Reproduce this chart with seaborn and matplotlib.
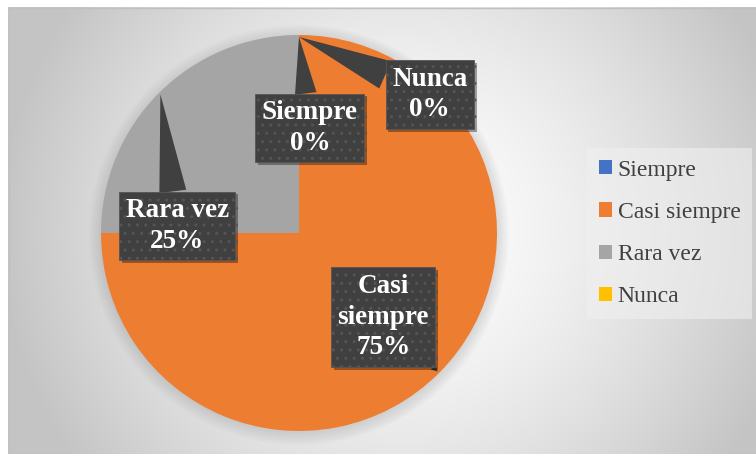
import numpy as np
import matplotlib.pyplot as plt
import matplotlib.patheffects as pe
from matplotlib.patches import Circle
import seaborn as sns

# data
categories = ['Siempre', 'Casi siempre', 'Rara vez', 'Nunca']
percentages = [0, 75, 25, 0]
colors = ['#4472C4', '#ED7D31', '#A5A5A5', '#FFC000']

# label box centres (pie data units, radius = 1)
label_pos = [(0.055, 0.53), (0.425, -0.425), (-0.615, 0.035), (0.66, 0.70)]
callout_width = [0.8, 0.25, 1.0, 1.1]

sns.set_theme(style='white')
plt.rcParams['font.family'] = ['Liberation Serif', 'DejaVu Serif']

W, H = 756, 454
fig = plt.figure(figsize=(W / 100, H / 100), dpi=100)

# chart area background: radial grey gradient
bg = fig.add_axes([0, 0, 1, 1])
bg.axis('off')
yy, xx = np.mgrid[0:H, 0:W]
d = np.sqrt((xx - 400) ** 2 + (yy - 230) ** 2) / 400
v = 1 - 0.23 * np.clip(d, 0, 1) ** 1.5
v[(xx < 8) | (yy < 7)] = 1.0
bg.imshow(np.dstack([v, v, v]), extent=[0, W, H, 0], aspect='auto')
bg.plot([8.5, 8.5], [7.5, H], color='#c0c0c0', lw=1)
bg.plot([8.5, W], [7.5, 7.5], color='#c0c0c0', lw=1)
bg.set_xlim(0, W)
bg.set_ylim(H, 0)

# pie
ax = fig.add_axes([101 / W, 23 / H, 396 / W, 396 / H])
for r in np.linspace(1.0, 1.06, 8):
    ax.add_patch(Circle((0.0, -0.01), r, color='#808080', alpha=0.03, lw=0, clip_on=False))
wedges, _ = ax.pie(percentages, colors=colors, startangle=90, counterclock=False,
                   radius=1, wedgeprops=dict(linewidth=0))
ax.set_xlim(-1, 1)
ax.set_ylim(-1, 1)
ax.axis('off')

for w, lab, pct, pos, tw in zip(wedges, categories, percentages, label_pos, callout_width):
    ang = np.deg2rad((w.theta1 + w.theta2) / 2)
    tip = (0.99 * np.cos(ang), 0.99 * np.sin(ang))
    txt = lab.replace(' ', '\n') if len(lab) > 10 else lab
    ann = ax.annotate(f"{txt}\n{pct}%", xy=tip, xytext=pos, ha='center', va='center',
                      color='white', fontsize=19.5, fontweight='bold', linespacing=1.3,
                      bbox=dict(boxstyle='square,pad=0.24', fc='#404040', ec='#555555',
                                lw=0.6, hatch='..'),
                      arrowprops=dict(arrowstyle=f'wedge,tail_width={tw},shrink_factor=0.5',
                                      fc='#404040', ec='none', shrinkA=0, shrinkB=0))
    ann.get_bbox_patch().set_path_effects([
        pe.SimplePatchShadow(offset=(2, -2), shadow_rgbFace='black', alpha=0.35),
        pe.Normal()])

leg = ax.legend(wedges, categories, loc='center left',
                bbox_to_anchor=(587 / W, (H - 233.5) / H), bbox_transform=fig.transFigure,
                fontsize=17, frameon=True, fancybox=False, handlelength=0.55,
                handleheight=0.55, handletextpad=0.25, labelspacing=0.9, borderpad=0.5,
                borderaxespad=0, labelcolor='#404040')
leg.get_frame().set_facecolor('#f0f0f0')
leg.get_frame().set_alpha(0.6)
leg.get_frame().set_edgecolor('none')

fig.savefig('out.png', dpi=100)
